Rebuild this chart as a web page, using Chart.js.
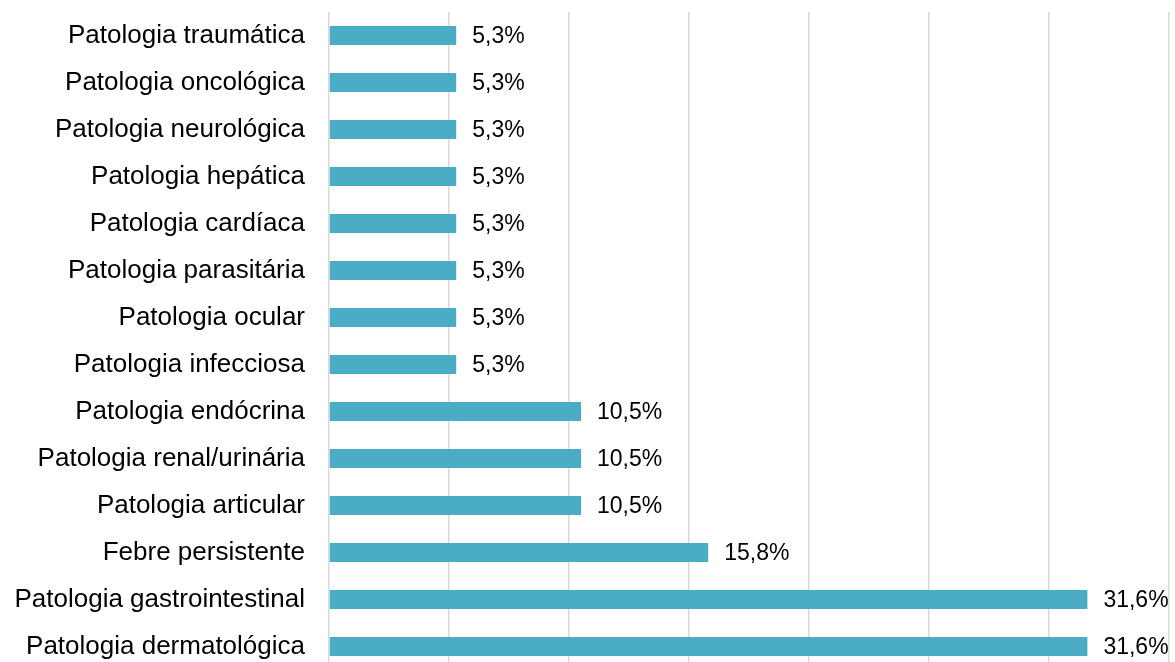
<!DOCTYPE html>
<html>
<head>
<meta charset="utf-8">
<script src="https://cdn.jsdelivr.net/npm/chart.js@4"></script>
<style>
  html, body { margin: 0; padding: 0; background: #fff; overflow: hidden; }
  #wrap { position: relative; width: 1175px; height: 670px; }
</style>
</head>
<body>
<div id="wrap"><canvas id="chart"></canvas></div>
<script>
const categories = [
  "Patologia traumática",
  "Patologia oncológica",
  "Patologia neurológica",
  "Patologia hepática",
  "Patologia cardíaca",
  "Patologia parasitária",
  "Patologia ocular",
  "Patologia infecciosa",
  "Patologia endócrina",
  "Patologia renal/urinária",
  "Patologia articular",
  "Febre persistente",
  "Patologia gastrointestinal",
  "Patologia dermatológica"
];
const percentages = [5.3, 5.3, 5.3, 5.3, 5.3, 5.3, 5.3, 5.3, 10.5, 10.5, 10.5, 15.8, 31.6, 31.6];
const axisMax = 35;
const axisStep = 5;

const FONT = "'Liberation Sans', Arial, sans-serif";

// percentage text to the right of each bar, with a decimal comma
const valueLabels = {
  id: "valueLabels",
  afterDatasetsDraw(chart) {
    const { ctx } = chart;
    const meta = chart.getDatasetMeta(0);
    meta.data.forEach((bar, i) => {
      const v = percentages[i];
      ctx.save();
      ctx.font = "23px " + FONT;
      ctx.fillStyle = "#000";
      ctx.textAlign = "left";
      ctx.textBaseline = "middle";
      ctx.fillText(v.toFixed(1).replace(".", ",") + "%", bar.x + 16, bar.y + 1);
      ctx.restore();
    });
  }
};

new Chart(document.getElementById("chart"), {
  type: "bar",
  data: {
    labels: categories,
    datasets: [{
      data: percentages,
      backgroundColor: "#4BACC6",
      borderWidth: 0,
      categoryPercentage: 1,
      barPercentage: 0.4
    }]
  },
  options: {
    indexAxis: "y",
    responsive: true,
    maintainAspectRatio: false,
    animation: false,
    layout: { padding: { top: 12, right: 6, bottom: 0, left: 0 } },
    plugins: {
      legend: { display: false },
      tooltip: { enabled: false }
    },
    scales: {
      x: {
        min: 0,
        max: axisMax,
        border: { display: false },
        grid: { color: "#d9d9d9", lineWidth: 1.5, drawTicks: false },
        ticks: { display: false, stepSize: axisStep },
        afterFit(scale) { scale.height = 0; }
      },
      y: {
        border: { display: false },
        grid: { display: false, drawTicks: false },
        ticks: {
          color: "#000",
          padding: 24,
          font: { family: FONT, size: 26 }
        },
        afterFit(scale) {
          scale.width = 329;
          scale.paddingTop = 0;
          scale.paddingBottom = 0;
        }
      }
    }
  },
  plugins: [valueLabels]
});
</script>
</body>
</html>
